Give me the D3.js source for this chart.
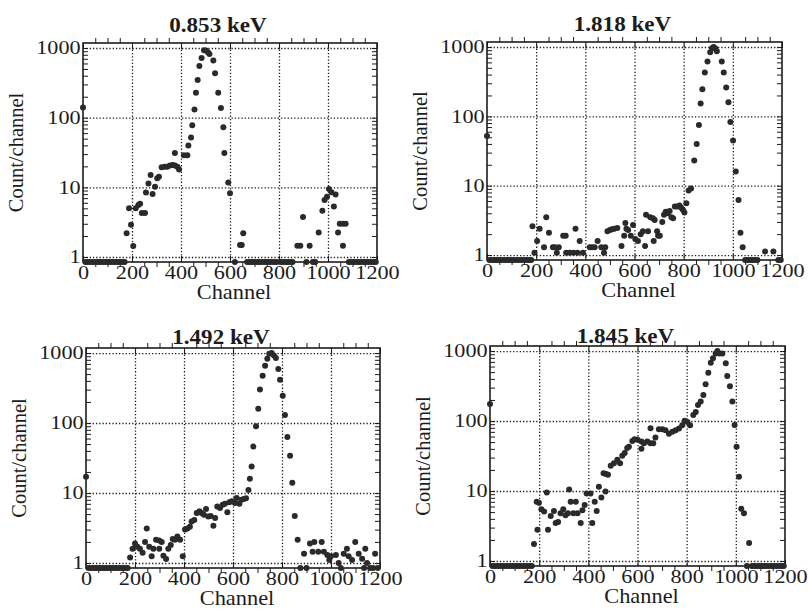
<!DOCTYPE html>
<html lang="en">
<head>
<meta charset="UTF-8">
<title>Spectra</title>
<script src="https://d3js.org/d3.v7.min.js"></script>
<style>
    body { margin: 0; background: #fff; }
    svg text { font-family: "Liberation Serif", "DejaVu Serif", serif; fill: #1c1c1c; }
    .grid line { stroke: #1c1c1c; stroke-width: 1.3; stroke-dasharray: 1.3,2; }
    .minor line { stroke: #1c1c1c; stroke-width: 1; }
    .frame { fill: none; stroke: #1c1c1c; stroke-width: 1.6; }
    .dot { fill: #2a2a2a; }
</style>
</head>
<body>
<script>
// ---- data: [channel, count/channel], 0 = empty channel (drawn on the floor)
const titles = ["0.853 keV", "1.818 keV", "1.492 keV", "1.845 keV"];
const xTicks = [0, 200, 400, 600, 800, 1000, 1200];
const yTicks = [1, 10, 100, 1000];
const xMinor = [50, 100, 150, 250, 300, 350, 450, 500, 550, 650, 700, 750, 850, 900, 950, 1050, 1100, 1150];
const yMinor = [0.9, 2, 3, 4, 5, 6, 7, 8, 9, 20, 30, 40, 50, 60, 70, 80, 90, 200, 300, 400, 500, 600, 700, 800, 900];

const kev0853 = [
    [0,140],[10,0],[20,0],[30,0],[40,0],[50,0],[60,0],[70,0],[80,0],[90,0],[100,0],[110,0],[120,0],[130,0],[140,0],[150,0],[160,0],[170,0],
    [178,2.2],[188,5.0],[196,2.9],[205,1.44],[215,5.0],[226,5.6],[233,5.8],[240,4.3],[253,4.3],[257,8.4],[267,11.4],[276,15],[284,8.0],
    [294,10.2],[303,13.5],[310,14.2],[321,19.5],[334,19.7],[344,19.7],[355,20.5],[366,21],[375,20.5],[385,19.7],[392,18],[375,31],
    [412,29],[426,29],[430,40],[441,52],[446,78],[455,131],[461,228],[468,347],[475,550],[484,720],[494,930],[502,920],[510,870],
    [516,820],[532,660],[539,435],[552,228],[563,138],[573,73],[577,31],[593,11.7],[600,8.2],[620,0],[641,1.49],[648,1.49],[654,2.19],
    [670,0],[680,0],[690,0],[700,0],[710,0],[720,0],[730,0],[740,0],[750,0],[760,0],[770,0],[780,0],[790,0],[805,0],[815,0],[825,0],
    [835,0],[845,0],[855,0],[875,1.45],[887,1.45],[898,3.75],[912,0],[925,1.45],[938,0],[948,0],[962,2.25],[977,4.6],[986,6.6],
    [996,7.3],[1004,9.5],[1014,8.5],[1024,5.3],[1031,7.9],[1041,2.25],[1048,3.0],[1061,3.0],[1072,3.0],[1061,1.45],
    [1085,0],[1095,0],[1105,0],[1115,0],[1125,0],[1135,0],[1145,0],[1155,0],[1165,0],[1175,0],[1185,0],[1195,0]
];

const kev1818 = [
    [0,52],[10,0],[20,0],[30,0],[40,0],[50,0],[60,0],[70,0],[80,0],[90,0],[100,0],[110,0],[120,0],[130,0],[140,0],[150,0],[160,0],[170,0],[180,0],
    [185,2.6],[193,1.08],[204,1.6],[214,2.4],[232,1.3],[241,3.5],[252,2.1],[268,1.3],[276,1.3],[284,1.08],[292,1.3],[310,1.9],[320,1.9],
    [322,1.08],[336,1.08],[352,1.08],[360,2.4],[368,1.08],[377,1.6],[390,1.08],[418,1.3],[428,1.3],[438,1.3],[450,1.6],[465,1.3],
    [476,1.08],[481,1.3],[490,2.2],[500,2.3],[508,2.35],[518,2.4],[530,2.45],[547,1.35],[558,1.9],[563,2.9],[567,2.4],[574,2.3],
    [585,1.9],[594,2.7],[603,1.7],[614,1.6],[625,2.0],[634,2.2],[643,1.35],[647,3.8],[655,2.2],[664,3.5],[675,3.4],[678,1.6],
    [682,3.2],[692,2.2],[696,1.9],[703,1.9],[713,3.0],[720,3.8],[727,4.2],[735,4.0],[743,4.3],[750,3.5],[757,3.4],[764,5.0],
    [773,5.0],[783,5.2],[790,4.8],[797,4.5],[803,4.1],[811,5.6],[820,8.5],[830,9.1],[843,23],[853,40],[862,75],[869,153],[876,245],
    [886,430],[897,620],[908,840],[915,960],[922,1000],[928,960],[935,870],[955,620],[963,430],[973,260],[982,160],[990,83],[1001,45],
    [1012,16],[1023,6.2],[1031,2.1],[1040,1.3],[1050,0],[1060,0],[1070,0],[1080,0],[1090,0],[1100,0],[1131,1.12],[1165,1.12],[1185,0],[1195,0]
];

const kev1492 = [
    [0,17],[10,0],[20,0],[30,0],[40,0],[50,0],[60,0],[70,0],[80,0],[90,0],[100,0],[110,0],[120,0],[130,0],[140,0],[150,0],[160,0],[170,0],
    [180,1.2],[190,1.6],[200,1.9],[210,1.7],[220,1.6],[231,1.4],[241,2.0],[248,3.1],[258,1.7],[268,1.25],[275,1.6],[286,2.15],[299,2.1],
    [299,1.6],[309,2.0],[316,1.27],[327,1.14],[336,1.6],[346,1.8],[354,2.2],[363,2.15],[373,2.4],[384,2.15],[395,1.25],[404,3.0],
    [414,3.1],[424,3.3],[431,3.9],[442,4.1],[452,5.2],[463,5.5],[472,5.2],[481,4.9],[490,5.9],[499,4.6],[509,4.7],[520,3.4],[527,4.4],
    [536,6.4],[547,6.1],[558,6.8],[567,7.0],[577,5.3],[585,7.4],[595,7.6],[608,7.2],[615,8.5],[626,7.0],[635,8.0],[644,8.2],[653,8.4],
    [663,11],[669,16],[676,24],[683,46],[694,90],[703,160],[710,300],[721,475],[731,660],[740,830],[748,980],[758,1000],[767,920],
    [775,850],[785,590],[792,415],[803,245],[812,130],[822,63],[833,34],[842,14],[852,4.7],[864,2.15],[875,0],[890,1.36],[900,0],
    [914,1.9],[925,1.45],[932,2.0],[948,1.45],[962,2.0],[971,1.45],[985,1.3],[993,1.1],[1000,1.25],[1020,1.3],[1031,1.0],[1040,0],
    [1052,1.35],[1065,1.6],[1072,1.25],[1086,1.1],[1099,2.0],[1113,1.35],[1127,1.15],[1135,0],[1140,1.6],[1147,1.0],[1160,0],
    [1172,0],[1180,1.35],[1191,0]
];

const kev1845 = [
    [0,175],[10,0],[20,0],[30,0],[40,0],[50,0],[60,0],[70,0],[80,0],[90,0],[100,0],[110,0],[120,0],[130,0],[140,0],[150,0],[160,0],[170,0],
    [179,1.75],[190,7.0],[193,2.8],[199,6.8],[209,5.5],[220,5.1],[231,9.5],[236,2.8],[247,4.4],[260,5.2],[267,3.5],[277,3.6],[287,4.8],
    [298,5.5],[307,4.5],[317,4.8],[322,10.5],[328,7.0],[339,4.8],[349,7.0],[356,4.8],[369,3.5],[376,5.3],[385,6.3],[393,9.2],[409,9.2],
    [416,3.5],[426,7.0],[434,5.2],[443,11.5],[453,8.1],[462,18],[470,9.8],[472,17.5],[480,17],[491,23],[504,25],[518,28],[529,25],
    [538,32],[548,35],[558,41],[565,43],[579,52],[588,55],[600,54],[616,51],[616,40],[626,48],[640,51],[653,48],[653,79],[664,48],
    [673,58],[687,76],[701,76],[714,74],[728,66],[742,70],[755,74],[769,78],[782,87],[792,101],[803,97],[814,87],[827,122],[837,135],
    [846,170],[857,190],[868,235],[877,335],[888,490],[898,680],[907,790],[918,925],[925,1000],[933,925],[945,925],[959,670],[965,440],
    [976,315],[986,190],[995,88],[1003,43],[1013,16],[1022,5.6],[1033,4.8],[1054,1.8],
    [1045,0],[1065,0],[1075,0],[1085,0],[1095,0],[1105,0],[1115,0],[1125,0],[1135,0],[1145,0],[1155,0],[1165,0],[1175,0],[1185,0],[1195,0]
];

const series = [kev0853, kev1818, kev1492, kev1845];

// ---- layout
const width = 808, height = 610;
const serif = "'Liberation Serif', 'DejaVu Serif', serif";
const panels = [
    {left: 83,  top: 43,  w: 294, h: 219, titleY: 32},
    {left: 487, top: 42,  w: 295, h: 218, titleY: 31},
    {left: 86,  top: 348, w: 294, h: 220, titleY: 344},
    {left: 490, top: 346, w: 295, h: 220, titleY: 343}
];
const yDomain = [0.848, 1180];
// the scanned lettering is wider than the font
const stretch = "scale(1.2,1)";

const svg = d3.select("body").append("svg")
    .attr("width", width).attr("height", height)
    .attr("font-family", serif);

panels.forEach((p, i) => {
    const g = svg.append("g").attr("transform", `translate(${p.left},${p.top})`);

    const x = d3.scaleLinear().domain([0, 1200]).range([0, p.w]);
    const y = d3.scaleLog().domain(yDomain).range([p.h, 0]);

    // dotted grid
    g.append("g").attr("class", "grid")
        .call(d3.axisBottom(x).tickValues(xTicks.slice(1, -1)).tickSize(p.h).tickFormat(""))
        .call(a => a.select(".domain").remove());
    g.append("g").attr("class", "grid")
        .call(d3.axisLeft(y).tickValues(yTicks).tickSize(-p.w).tickFormat(""))
        .call(a => a.select(".domain").remove());

    // inward minor ticks on all four sides
    const minor = [
        [d3.axisLeft(y).tickValues(yMinor.concat(yTicks)), 0, 0],
        [d3.axisRight(y).tickValues(yMinor.concat(yTicks)), p.w, 0],
        [d3.axisBottom(x).tickValues(xMinor), 0, 0],
        [d3.axisTop(x).tickValues(xMinor), 0, p.h]
    ];
    minor.forEach(([ax, tx, ty]) => {
        g.append("g").attr("class", "minor")
            .attr("transform", `translate(${tx},${ty})`)
            .call(ax.tickSize(-5).tickFormat(""))
            .call(a => a.select(".domain").remove());
    });
    // major ticks along top/bottom edges
    g.append("g").attr("class", "minor")
        .call(d3.axisBottom(x).tickValues(xTicks).tickSize(6).tickFormat(""))
        .call(a => a.select(".domain").remove());
    g.append("g").attr("class", "minor").attr("transform", `translate(0,${p.h})`)
        .call(d3.axisTop(x).tickValues(xTicks).tickSize(6).tickFormat(""))
        .call(a => a.select(".domain").remove());

    // tick labels
    g.append("g").attr("transform", `translate(0,${p.h})`)
        .call(d3.axisBottom(x).tickValues(xTicks).tickSize(0).tickPadding(4).tickFormat(d3.format("d")))
        .call(a => a.select(".domain").remove())
        .call(a => a.attr("font-family", serif))
        .selectAll("text").attr("font-size", 18.5).attr("dy", "0.7em").attr("transform", stretch);
    g.append("g")
        .call(d3.axisLeft(y).tickValues(yTicks).tickSize(0).tickPadding(2).tickFormat(d3.format("d")))
        .call(a => a.select(".domain").remove())
        .call(a => a.attr("font-family", serif))
        .selectAll("text").attr("font-size", 18.5).attr("transform", stretch);

    g.append("rect").attr("class", "frame")
        .attr("width", p.w).attr("height", p.h);

    // points
    g.append("g").selectAll("circle")
        .data(series[i])
        .join("circle")
        .attr("class", "dot")
        .attr("cx", d => x(d[0]))
        .attr("cy", d => y(d[1] > 0 ? d[1] : yDomain[0]))
        .attr("r", 3);

    // titles
    svg.append("text")
        .attr("transform", `translate(${p.left + p.w / 2 - 12},${p.titleY}) scale(1.05,1)`)
        .attr("text-anchor", "middle")
        .attr("font-size", 22).attr("font-weight", "bold")
        .text(titles[i]);
    svg.append("text")
        .attr("transform", `translate(${p.left + p.w / 2 + 4},${p.top + p.h + 37}) scale(1.12,1)`)
        .attr("text-anchor", "middle")
        .attr("font-size", 20)
        .text("Channel");
    svg.append("text")
        .attr("transform", `translate(${p.left - 60},${p.top + p.h / 2}) rotate(-90)`)
        .attr("text-anchor", "middle")
        .attr("font-size", 20.5)
        .text("Count/channel");
});
</script>
</body>
</html>
